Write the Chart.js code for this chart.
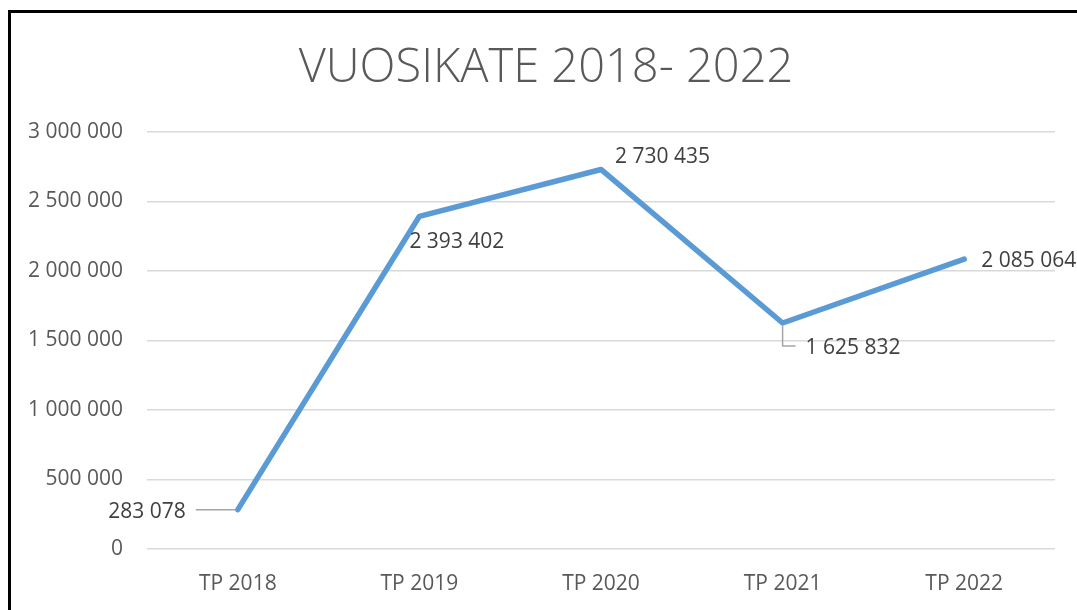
<!DOCTYPE html>
<html>
<head>
<meta charset="utf-8">
<script src="https://cdn.jsdelivr.net/npm/chart.js@4/dist/chart.umd.min.js"></script>
<style>
  html, body { margin: 0; padding: 0; background: #fff; }
  #wrap { position: relative; width: 1077px; height: 610px; overflow: hidden; }
  #vuosikateChart { position: absolute; left: 0; top: 0; }
  #frame { position: absolute; left: 8px; top: 10px; width: 1100px; height: 700px;
           border-left: 3px solid #000; border-top: 3px solid #000; pointer-events: none; }
</style>
</head>
<body>
<div id="wrap">
  <canvas id="vuosikateChart" width="1077" height="610"></canvas>
  <div id="frame"></div>
</div>
<script>
const chartTitle = 'VUOSIKATE 2018- 2022';
const years = ['TP 2018', 'TP 2019', 'TP 2020', 'TP 2021', 'TP 2022'];
const vuosikate = [283078, 2393402, 2730435, 1625832, 2085064];
const yTicks = [0, 500000, 1000000, 1500000, 2000000, 2500000, 3000000];

// Finnish style thousands: "2 730 435"
function fiNumber(v) {
  return String(Math.round(v)).replace(/\B(?=(\d{3})+(?!\d))/g, ' ');
}

// label placement relative to each point (dx, dy of text start, leader line type)
const labelPlacement = [
  { dx: -52, dy: 2, align: 'right', leader: 'left' },
  { dx: -10, dy: 26, align: 'left' },
  { dx: 14, dy: -12, align: 'left' },
  { dx: 23, dy: 25, align: 'left', leader: 'down' },
  { dx: 17, dy: 2, align: 'left' }
];

// title is centred on the framed area, not on the canvas
const titleDraw = {
  id: 'titleDraw',
  afterDraw(chart) {
    const ctx = chart.ctx;
    ctx.save();
    ctx.font = '300 47px "Open Sans"';
    ctx.fillStyle = '#595959';
    ctx.textAlign = 'center';
    ctx.textBaseline = 'middle';
    ctx.fillText(chartTitle, 546, 69);
    ctx.restore();
  }
};

const dataLabels = {
  id: 'dataLabels',
  afterDatasetsDraw(chart) {
    const ctx = chart.ctx;
    const meta = chart.getDatasetMeta(0);
    ctx.save();
    ctx.font = '21px "Open Sans"';
    ctx.textBaseline = 'middle';
    meta.data.forEach(function(pt, i) {
      const p = labelPlacement[i];
      const tx = pt.x + p.dx;
      const ty = pt.y + p.dy;
      ctx.strokeStyle = '#a6a6a6';
      ctx.lineWidth = 1.5;
      if (p.leader === 'left') {
        ctx.beginPath();
        ctx.moveTo(tx + 10, pt.y);
        ctx.lineTo(pt.x - 2, pt.y);
        ctx.stroke();
      } else if (p.leader === 'down') {
        ctx.beginPath();
        ctx.moveTo(pt.x, pt.y + 3);
        ctx.lineTo(pt.x, ty - 2);
        ctx.lineTo(tx - 10, ty - 2);
        ctx.stroke();
      }
      ctx.fillStyle = '#404040';
      ctx.textAlign = p.align;
      ctx.fillText(fiNumber(vuosikate[i]), tx, ty);
    });
    ctx.restore();
  }
};

const ctx = document.getElementById('vuosikateChart').getContext('2d');
const vuosikateChart = new Chart(ctx, {
  type: 'line',
  data: {
    labels: years,
    datasets: [{
      label: 'Vuosikate',
      data: vuosikate,
      borderColor: '#5B9BD5',
      borderWidth: 5.5,
      borderCapStyle: 'round',
      borderJoinStyle: 'round',
      pointRadius: 0,
      tension: 0,
      fill: false
    }]
  },
  options: {
    responsive: false,
    animation: false,
    layout: { padding: { left: 0, right: 22, top: 132, bottom: 0 } },
    plugins: {
      legend: { display: false },
      tooltip: { enabled: false },
      title: { display: false }
    },
    scales: {
      x: {
        offset: true,
        grid: { display: false },
        border: { display: false },
        ticks: { color: '#595959', font: { family: 'Open Sans', size: 21 }, padding: 14 },
        afterFit(scale) { scale.height = 61; }
      },
      y: {
        min: 0,
        max: 3000000,
        afterBuildTicks(scale) { scale.ticks = yTicks.map(v => ({ value: v })); },
        grid: { color: '#d9d9d9', lineWidth: 1.5, drawTicks: false },
        border: { display: false },
        ticks: {
          color: '#595959',
          font: { family: 'Open Sans', size: 21 },
          padding: 24,
          callback: v => fiNumber(v)
        },
        afterFit(scale) { scale.width = 147; }
      }
    }
  },
  plugins: [dataLabels, titleDraw]
});
</script>
</body>
</html>
